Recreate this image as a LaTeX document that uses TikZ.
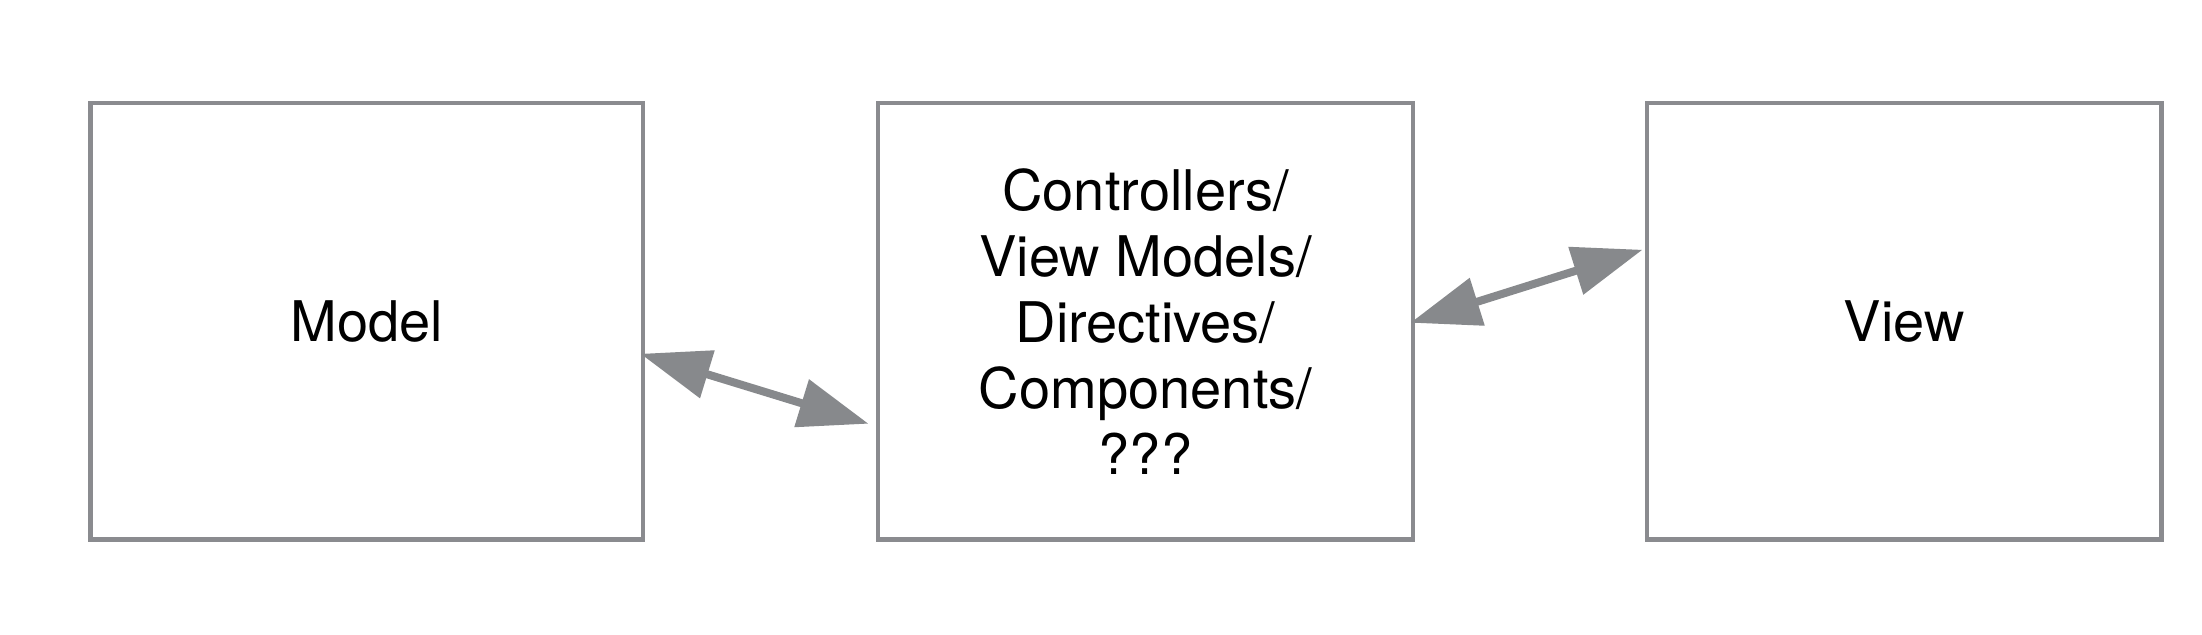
\documentclass[tikz,border=0pt]{standalone}
\usepackage{fontspec}
\setmainfont{TeX Gyre Heros}
\usetikzlibrary{arrows.meta,calc}
\definecolor{boxgray}{HTML}{8A8B8F}
\definecolor{arrowgray}{HTML}{87898C}
\begin{document}
\begin{tikzpicture}[x=0.5pt,y=-0.5pt,
  box/.style={draw=boxgray,line width=2.25pt,rectangle,inner sep=0pt,align=center,
    minimum height=218.25pt,font=\fontsize{28}{33}\selectfont},
  link/.style={draw=arrowgray,line width=4pt,shorten <=-2.5pt,shorten >=-2.5pt,
    {Triangle[length=35pt,width=24pt]}-{Triangle[length=35pt,width=24pt]}}]
\useasboundingbox[fill=white] (0,0) rectangle (2202,634);
\node[box,minimum width=276.25pt] (model) at (366.75,321.25) {Model};
\node[box,minimum width=267.5pt] (ctrl) at (1145.5,321.25)
  {Controllers/\\View Models/\\Directives/\\Components/\\???};
\node[box,minimum width=257.35pt] (view) at (1904.35,321.25) {View};
\coordinate (a1) at ($(model.east)+(0,34)$);
\coordinate (a2) at ($(ctrl.west)+(-12,101)$);
\coordinate (b1) at (ctrl.east);
\coordinate (b2) at ($(view.west)+(-7,-70)$);
\draw[link] (a1) -- (a2);
\draw[link] (b1) -- (b2);
\end{tikzpicture}
\end{document}
